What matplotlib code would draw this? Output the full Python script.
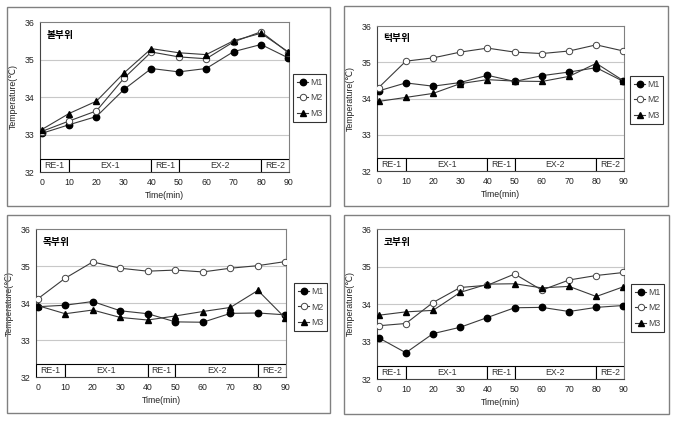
import matplotlib
matplotlib.use("Agg")
import matplotlib.pyplot as plt
from matplotlib.patches import Rectangle
from matplotlib.lines import Line2D

plt.rcParams['font.family'] = ['Liberation Sans', 'DejaVu Sans', 'Noto Sans CJK KR']

time_min = [0, 10, 20, 30, 40, 50, 60, 70, 80, 90]
series_names = ['M1', 'M2', 'M3']
phase_labels = ['RE-1', 'EX-1', 'RE-1', 'EX-2', 'RE-2']
phase_edges = [0, 10, 40, 50, 80, 90]
y_ticks = [32, 33, 34, 35, 36]

cheek_title = '볼부위'
cheek_m1 = [33.03, 33.26, 33.48, 34.20, 34.76, 34.67, 34.76, 35.21, 35.40, 35.04]
cheek_m2 = [33.08, 33.36, 33.63, 34.50, 35.20, 35.07, 35.02, 35.47, 35.74, 35.18]
cheek_m3 = [33.13, 33.56, 33.89, 34.64, 35.29, 35.18, 35.13, 35.50, 35.70, 35.20]

chin_title = '턱부위'
chin_m1 = [34.21, 34.43, 34.34, 34.44, 34.64, 34.47, 34.63, 34.73, 34.85, 34.47]
chin_m2 = [34.30, 35.03, 35.12, 35.28, 35.39, 35.28, 35.24, 35.31, 35.48, 35.31]
chin_m3 = [33.92, 34.03, 34.14, 34.41, 34.52, 34.48, 34.47, 34.61, 34.97, 34.49]

neck_title = '목부위'
neck_m1 = [33.90, 33.94, 34.04, 33.79, 33.71, 33.49, 33.48, 33.72, 33.73, 33.68]
neck_m2 = [34.11, 34.67, 35.11, 34.94, 34.86, 34.89, 34.84, 34.94, 35.01, 35.12]
neck_m3 = [33.93, 33.71, 33.81, 33.61, 33.54, 33.65, 33.77, 33.88, 34.34, 33.59]

nose_title = '코부위'
nose_m1 = [33.10, 32.70, 33.21, 33.38, 33.64, 33.90, 33.91, 33.80, 33.91, 33.96]
nose_m2 = [33.42, 33.48, 34.04, 34.44, 34.50, 34.80, 34.37, 34.64, 34.76, 34.84]
nose_m3 = [33.70, 33.79, 33.83, 34.31, 34.53, 34.54, 34.43, 34.47, 34.20, 34.46]

W, H = 676, 423
fig = plt.figure(figsize=(W / 100, H / 100), dpi=100)
fig.patch.set_facecolor('white')

def fx(px):
    return px / W

def fy(py):
    return 1 - py / H

# panel frames (px): left, top, right, bottom
panels = [
    dict(frame=(7, 7, 330, 206), axes=(40, 22, 289, 172), legend=(293, 74),
         title=cheek_title, data=(cheek_m1, cheek_m2, cheek_m3)),
    dict(frame=(344, 6, 668, 206), axes=(377, 26, 624, 171), legend=(630, 76),
         title=chin_title, data=(chin_m1, chin_m2, chin_m3)),
    dict(frame=(7, 215, 330, 413), axes=(36, 229, 286, 377), legend=(294, 283),
         title=neck_title, data=(neck_m1, neck_m2, neck_m3)),
    dict(frame=(344, 215, 669, 414), axes=(377, 229, 624, 379), legend=(631, 284),
         title=nose_title, data=(nose_m1, nose_m2, nose_m3)),
]

line_col = '#3a3a3a'
text_col = '#222222'
styles = [
    dict(marker='o', markerfacecolor='black', markeredgecolor='black', markersize=4.6),
    dict(marker='o', markerfacecolor='white', markeredgecolor='#444444', markersize=4.6, markeredgewidth=0.7),
    dict(marker='^', markerfacecolor='black', markeredgecolor='black', markersize=4.6),
]

for p in panels:
    l, t, r, b = p['frame']
    fig.add_artist(Rectangle((fx(l), fy(b)), fx(r - l), (b - t) / H,
                             transform=fig.transFigure, fill=False,
                             edgecolor='#808080', linewidth=1.0))
    al, at, ar, ab = p['axes']
    ax = fig.add_axes([fx(al), fy(ab), fx(ar - al), (ab - at) / H])
    ax.set_xlim(-0.6, 90.2)
    ax.set_ylim(32, 36)
    ax.set_yticks(y_ticks)
    ax.set_xticks(time_min)
    ax.tick_params(length=0, labelsize=6.3, colors=text_col, pad=4)
    for yv in y_ticks[1:-1]:
        ax.axhline(yv, color='#c8c8c8', linewidth=0.8, zorder=0)
    for s in ax.spines.values():
        s.set_color('#808080')
        s.set_linewidth(0.8)
    ax.spines['left'].set_color('#444444')
    ax.spines['bottom'].set_color('#444444')

    # phase band
    x0 = ax.get_xlim()[0]
    x1 = ax.get_xlim()[1]
    for i, lab in enumerate(phase_labels):
        a = phase_edges[i] if i > 0 else x0
        c = phase_edges[i + 1] if i < len(phase_labels) - 1 else x1
        ax.add_patch(Rectangle((a, 32), c - a, 0.35, facecolor='white',
                               edgecolor='black', linewidth=0.8, zorder=3))
        ax.text((a + c) / 2, 32.175, lab, ha='center', va='center',
                fontsize=6.3, color='#333333', zorder=4)

    for vals, st in zip(p['data'], styles):
        ax.plot(time_min, vals, color=line_col, linewidth=0.8, zorder=5, **st)

    ax.text(0.025, 0.915, p['title'], transform=ax.transAxes, ha='left', va='center',
            fontsize=7, fontweight='bold', family=['Noto Sans CJK KR', 'DejaVu Sans'],
            color='black')
    ax.set_ylabel('Temperature(℃)', fontsize=6.3, color=text_col, labelpad=5,
                  family=['Liberation Sans', 'DejaVu Sans'])
    ax.set_xlabel('Time(min)', fontsize=6.3, color=text_col, labelpad=3)

    handles = [Line2D([], [], color=line_col, linewidth=0.8, **st) for st in styles]
    lx, ly = p['legend']
    leg = fig.legend(handles, series_names, loc='upper left',
                     bbox_to_anchor=(fx(lx), fy(ly)), bbox_transform=fig.transFigure,
                     fontsize=6.3, frameon=True, fancybox=False, handlelength=1.3,
                     handletextpad=0.2, borderpad=0.45, labelspacing=0.75,
                     borderaxespad=0)
    leg.get_frame().set_edgecolor('black')
    leg.get_frame().set_linewidth(0.8)
    for txt in leg.get_texts():
        txt.set_color('#444444')

fig.savefig('out.png', dpi=100, facecolor='white')
